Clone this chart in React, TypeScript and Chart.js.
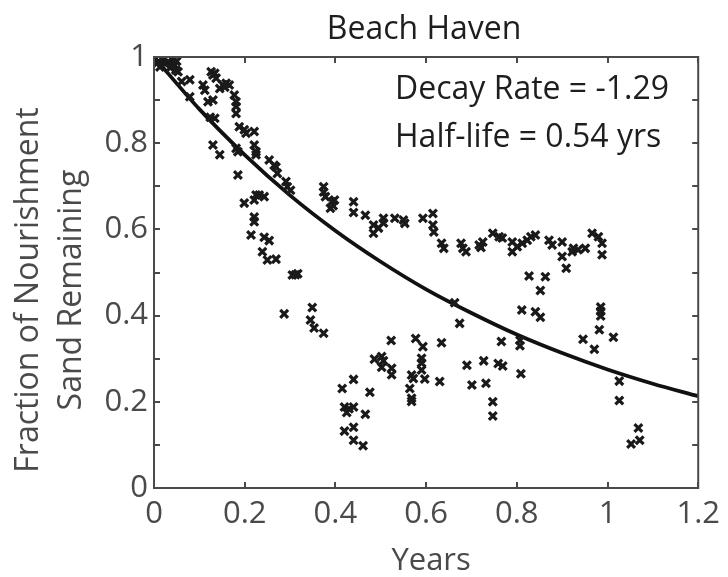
import React, { useEffect, useRef } from "react";
import { Chart, registerables } from "chart.js";

Chart.register(...registerables);

const TITLE = "Beach Haven";
const X_TITLE = "Years";
const Y_TITLE = ["Fraction of Nourishment", "Sand Remaining"];
const ANNOTATIONS = ["Decay Rate = -1.29", "Half-life = 0.54 yrs"];

const X_TICKS = [0, 0.2, 0.4, 0.6, 0.8, 1, 1.2];
const Y_TICKS = [0, 0.1, 0.2, 0.3, 0.4, 0.5, 0.6, 0.7, 0.8, 0.9, 1];

// observed fraction remaining (x = years, y = fraction)
const OBS_X = [
  0.006, 0.013, 0.024, 0.031, 0.042, 0.046, 0.05, 0.053, 0.036, 0.02, 0.01, 0.048,
  0.061, 0.079, 0.079,
  0.108, 0.112, 0.126, 0.134, 0.137, 0.13, 0.119, 0.13, 0.134, 0.124,
  0.145, 0.152, 0.159, 0.166, 0.156, 0.177, 0.181, 0.181, 0.181,
  0.188, 0.199, 0.203, 0.221, 0.221, 0.225, 0.13, 0.145, 0.181, 0.185, 0.185,
  0.225, 0.254, 0.265, 0.269, 0.272, 0.291, 0.294, 0.301,
  0.199, 0.221, 0.225, 0.232, 0.243, 0.221, 0.221, 0.214, 0.243, 0.254, 0.239, 0.25, 0.269,
  0.305, 0.317, 0.312, 0.287,
  0.349, 0.345, 0.353, 0.374,
  0.374, 0.374, 0.378, 0.393, 0.389, 0.398, 0.395, 0.44, 0.44, 0.466, 0.484, 0.484, 0.495,
  0.506, 0.506, 0.531, 0.55, 0.553, 0.593, 0.615, 0.615, 0.617, 0.634, 0.639, 0.677, 0.681,
  0.688, 0.717, 0.725, 0.721, 0.747, 0.761, 0.768, 0.79, 0.79, 0.801, 0.812, 0.823, 0.831,
  0.841, 0.871, 0.878, 0.9, 0.9, 0.909, 0.922, 0.925, 0.935, 0.951, 0.966, 0.98, 0.988, 0.988,
  0.663, 0.674, 0.827, 0.863, 0.852, 0.811, 0.841, 0.852, 0.985, 0.985, 0.985, 0.982, 0.946,
  0.971, 1.013, 0.766, 0.807, 0.807, 0.809,
  0.415, 0.42, 0.43, 0.44, 0.425, 0.42, 0.44, 0.44, 0.461, 0.466, 0.44, 0.476,
  0.486, 0.502, 0.506, 0.502, 0.524, 0.524, 0.523, 0.577, 0.593, 0.634, 0.59, 0.59, 0.59,
  0.597, 0.568, 0.572, 0.564, 0.568, 0.568, 0.63,
  0.69, 0.701, 0.727, 0.732, 0.759, 0.769, 0.747, 0.747,
  1.026, 1.026, 1.068, 1.071, 1.052,
];
const OBS_Y = [
  0.985, 0.977, 0.985, 0.989, 0.993, 0.981, 0.99, 0.966, 0.975, 0.995, 0.99, 0.97,
  0.943, 0.947, 0.908,
  0.935, 0.923, 0.966, 0.962, 0.951, 0.958, 0.896, 0.9, 0.858, 0.86,
  0.927, 0.935, 0.939, 0.935, 0.93, 0.912, 0.896, 0.885, 0.869,
  0.838, 0.831, 0.823, 0.827, 0.796, 0.78, 0.796, 0.773, 0.788, 0.78, 0.726,
  0.773, 0.761, 0.749, 0.745, 0.73, 0.711, 0.699, 0.691,
  0.661, 0.668, 0.68, 0.68, 0.676, 0.629, 0.618, 0.587, 0.582, 0.574, 0.548, 0.529, 0.531,
  0.494, 0.497, 0.495, 0.404,
  0.419, 0.39, 0.371, 0.359,
  0.699, 0.687, 0.676, 0.664, 0.649, 0.668, 0.655, 0.664, 0.639, 0.633, 0.61, 0.591, 0.603,
  0.626, 0.615, 0.626, 0.622, 0.614, 0.626, 0.637, 0.61, 0.594, 0.568, 0.556, 0.568, 0.556,
  0.548, 0.564, 0.571, 0.558, 0.591, 0.583, 0.58, 0.571, 0.548, 0.56, 0.568, 0.575, 0.583,
  0.587, 0.575, 0.564, 0.571, 0.537, 0.51, 0.548, 0.556, 0.553, 0.556, 0.591, 0.583, 0.568, 0.541,
  0.43, 0.382, 0.492, 0.49, 0.458, 0.413, 0.409, 0.396, 0.42, 0.41, 0.399, 0.367, 0.345,
  0.322, 0.35, 0.34, 0.343, 0.33, 0.265,
  0.231, 0.188, 0.184, 0.188, 0.175, 0.132, 0.141, 0.111, 0.098, 0.171, 0.252, 0.222,
  0.299, 0.305, 0.295, 0.28, 0.278, 0.263, 0.342, 0.347, 0.328, 0.337, 0.301, 0.29, 0.274,
  0.253, 0.262, 0.254, 0.231, 0.208, 0.201, 0.247,
  0.285, 0.239, 0.295, 0.243, 0.289, 0.283, 0.2, 0.167,
  0.248, 0.203, 0.139, 0.111, 0.102,
];

// fitted exponential decay curve, read at 0.1-year steps
const FIT_X = [0, 0.1, 0.2, 0.3, 0.4, 0.5, 0.6, 0.7, 0.8, 0.9, 1.0, 1.1, 1.2];
const FIT_Y = [1, 0.879, 0.773, 0.679, 0.597, 0.525, 0.461, 0.406, 0.356, 0.313, 0.275, 0.242, 0.213];

const FONT = "'Open Sans', 'Noto Sans', sans-serif";
const AXIS_COLOR = "#4a4a4a";
const LABEL_COLOR = "#4a4a4a";
const TEXT_COLOR = "#1e1e1e";

const fmt = (v: number) => String(Math.round(v * 10) / 10);

const framePlugin = {
  id: "frame",
  afterDatasetsDraw(chart: any) {
    const { ctx, chartArea } = chart;
    const xs = chart.scales.x;
    const ys = chart.scales.y;
    const { left, right, top, bottom } = chartArea;
    ctx.save();
    ctx.strokeStyle = AXIS_COLOR;
    ctx.lineWidth = 2;
    ctx.beginPath();
    ctx.rect(left, top, right - left, bottom - top);
    ctx.stroke();
    ctx.beginPath();
    const tl = 6;
    X_TICKS.forEach((v) => {
      const px = Math.round(xs.getPixelForValue(v));
      ctx.moveTo(px, bottom);
      ctx.lineTo(px, bottom - tl);
      ctx.moveTo(px, top);
      ctx.lineTo(px, top + tl);
    });
    Y_TICKS.forEach((v) => {
      const py = Math.round(ys.getPixelForValue(v));
      ctx.moveTo(left, py);
      ctx.lineTo(left + tl, py);
      ctx.moveTo(right, py);
      ctx.lineTo(right - tl, py);
    });
    ctx.stroke();
    ctx.restore();
  },
  afterDraw(chart: any) {
    const { ctx, chartArea } = chart;
    const cx = (chartArea.left + chartArea.right) / 2;
    ctx.save();
    ctx.fillStyle = TEXT_COLOR;
    ctx.textBaseline = "alphabetic";
    ctx.textAlign = "center";
    ctx.font = `32px ${FONT}`;
    ctx.fillText(TITLE, cx - 2, 39);
    ctx.textAlign = "left";
    ctx.fillText(ANNOTATIONS[0], 395, 99);
    ctx.fillText(ANNOTATIONS[1], 395, 147);
    ctx.fillStyle = LABEL_COLOR;
    ctx.textAlign = "center";
    ctx.font = `31px ${FONT}`;
    ctx.fillText(X_TITLE, cx + 5, 570);
    ctx.save();
    ctx.translate(0, 290);
    ctx.rotate(-Math.PI / 2);
    ctx.font = `32px ${FONT}`;
    ctx.textBaseline = "middle";
    ctx.fillText(Y_TITLE[0], 0, 29);
    ctx.fillText(Y_TITLE[1], 0, 72);
    ctx.restore();
    ctx.restore();
  },
};

export default function App() {
  const ref = useRef<HTMLCanvasElement | null>(null);
  useEffect(() => {
    if (!ref.current) return;
    const points = OBS_X.map((x, i) => ({ x, y: OBS_Y[i] }));
    const fit = FIT_X.map((x, i) => ({ x, y: FIT_Y[i] }));
    const chart = new Chart(ref.current, {
      type: "scatter",
      data: {
        datasets: [
          {
            data: points,
            pointStyle: "crossRot",
            pointRadius: 5.5,
            pointBorderWidth: 3.2,
            borderColor: "#1a1a1a",
            backgroundColor: "#1a1a1a",
          } as any,
          {
            type: "line",
            data: fit,
            borderColor: "#111",
            borderWidth: 3.8,
            pointRadius: 0,
            fill: false,
            cubicInterpolationMode: "monotone",
          } as any,
        ],
      },
      options: {
        animation: false,
        responsive: false,
        events: [],
        layout: { padding: { left: 0, right: 26, top: 57, bottom: 0 } },
        plugins: {
          legend: { display: false },
          title: { display: false },
          tooltip: { enabled: false },
        },
        scales: {
          x: {
            type: "linear",
            min: 0,
            max: 1.2,
            grid: { display: false, drawTicks: false },
            border: { display: false },
            afterFit: (s: any) => {
              s.height = 89;
            },
            afterBuildTicks: (s: any) => {
              s.ticks = X_TICKS.map((v) => ({ value: v }));
            },
            ticks: {
              padding: 8,
              color: LABEL_COLOR,
              font: { family: FONT, size: 31 },
              maxRotation: 0,
              autoSkip: false,
              callback: (v: any) => fmt(Number(v)),
            },
          },
          y: {
            type: "linear",
            min: 0,
            max: 1,
            grid: { display: false, drawTicks: false },
            border: { display: false },
            afterFit: (s: any) => {
              s.width = 154;
            },
            afterBuildTicks: (s: any) => {
              s.ticks = Y_TICKS.map((v) => ({ value: v }));
            },
            ticks: {
              padding: 6,
              color: LABEL_COLOR,
              font: { family: FONT, size: 31 },
              autoSkip: false,
              callback: (v: any) => {
                const n = Math.round(Number(v) * 10);
                return n % 2 === 0 ? fmt(Number(v)) : "";
              },
            },
          },
        },
      },
      plugins: [framePlugin],
    });
    return () => chart.destroy();
  }, []);
  return (
    <div style={{ position: "absolute", left: 0, top: 0, width: 728, height: 577, background: "#fff" }}>
      <canvas ref={ref} width={728} height={577} style={{ display: "block" }} />
    </div>
  );
}
